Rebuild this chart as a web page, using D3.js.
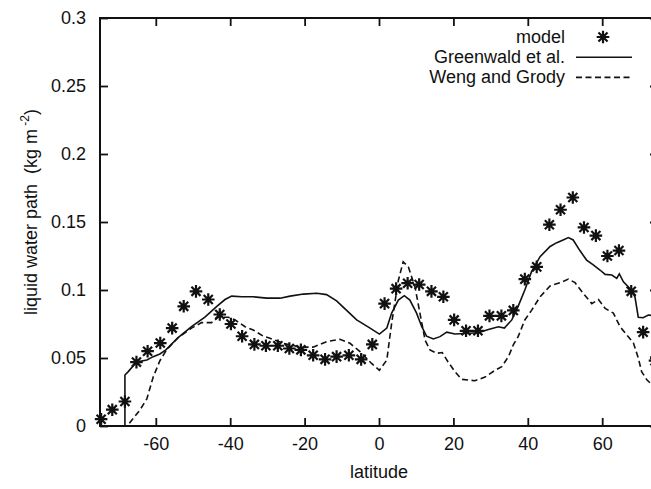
<!DOCTYPE html>
<html>
<head>
<meta charset="utf-8">
<script src="https://cdn.jsdelivr.net/npm/d3@7"></script>
<style>
  body { margin: 0; background: #fff; }
  svg { display: block; font-family: "Liberation Sans", Arial, sans-serif; }
</style>
</head>
<body>
<svg id="chart" width="651" height="489"></svg>
<script>
// model points (latitude, liquid water path)
const modelLat = [-74.7, -71.7, -68.3, -65.2, -62.2, -58.8, -55.6, -52.5, -49.2, -45.9, -42.8, -39.8,
  -36.8, -33.5, -30.4, -27.2, -24.1, -21.0, -17.7, -14.5, -11.4, -8.1, -4.8, -1.8,
  1.5, 4.6, 7.7, 10.8, 14.1, 17.3, 20.2, 23.4, 26.6, 29.7, 32.9, 36.1,
  39.2, 42.4, 45.8, 48.8, 52.1, 55.1, 58.3, 61.4, 64.5, 67.8, 71.0, 74.2];
const modelLwp = [0.005, 0.012, 0.018, 0.047, 0.055, 0.061, 0.072, 0.088, 0.099, 0.093, 0.082, 0.075,
  0.066, 0.060, 0.059, 0.059, 0.057, 0.056, 0.052, 0.049, 0.051, 0.052, 0.049, 0.060,
  0.090, 0.101, 0.105, 0.104, 0.099, 0.095, 0.078, 0.070, 0.070, 0.081, 0.081, 0.085,
  0.108, 0.117, 0.148, 0.159, 0.168, 0.146, 0.140, 0.125, 0.129, 0.099, 0.069, 0.048];

// Greenwald et al. (solid)
const greenLat = [-68.3, -68.3, -67.4, -65.2, -62.4, -60.7, -58.9, -57.3, -54.0, -50.4, -46.8, -43.6,
  -41.4, -39.6, -36.9, -33.8, -30.2, -26.6, -23.9, -20.3, -16.7, -14.1, -11.4, -8.7,
  -6.0, -2.4, 0.1, 2.1, 3.4, 5.2, 6.8, 8.3, 10.1, 11.5, 12.8, 14.6,
  16.4, 18.2, 20.4, 23.1, 26.7, 29.4, 32.1, 33.7, 35.7, 37.4, 39.2, 41.0,
  43.3, 46.0, 47.8, 49.5, 50.9, 52.2, 54.0, 55.8, 57.6, 59.4, 60.8, 62.6,
  63.9, 64.6, 65.7, 67.5, 68.8, 69.7, 71.0, 72.4, 74.2];
const greenLwp = [0, 0.0375, 0.040, 0.047, 0.0485, 0.051, 0.053, 0.056, 0.065, 0.073, 0.080, 0.088,
  0.093, 0.0955, 0.095, 0.095, 0.094, 0.094, 0.0955, 0.097, 0.0976, 0.0966, 0.092, 0.085,
  0.078, 0.072, 0.0676, 0.072, 0.083, 0.0926, 0.0958, 0.0926, 0.083, 0.073, 0.066, 0.064,
  0.0657, 0.069, 0.0676, 0.068, 0.0686, 0.071, 0.073, 0.072, 0.078, 0.088, 0.100, 0.1135,
  0.1245, 0.132, 0.1348, 0.1368, 0.1385, 0.1368, 0.129, 0.122, 0.1184, 0.1147, 0.1115, 0.111,
  0.1086, 0.1118, 0.106, 0.101, 0.095, 0.080, 0.0796, 0.0816, 0.081];

// Weng and Grody (dashed)
const wengLat = [-67.1, -64.2, -62.4, -60.7, -58.9, -57.1, -54.0, -50.4, -47.7, -45.0, -43.2, -40.5,
  -38.7, -36.0, -33.8, -31.1, -29.3, -25.7, -21.2, -17.7, -14.1, -10.5, -7.8, -5.1,
  -2.0, 0.1, 2.1, 3.4, 5.2, 6.5, 7.9, 9.7, 11.0, 12.4, 13.7, 15.5,
  17.0, 18.6, 20.4, 22.2, 25.8, 28.5, 31.2, 33.0, 34.8, 36.1, 37.4, 39.2,
  41.0, 43.3, 46.0, 48.7, 50.9, 52.7, 54.9, 57.2, 59.0, 60.8, 63.0, 64.8,
  66.6, 68.4, 69.7, 70.6, 72.0, 73.1, 74.2];
const wengLwp = [0.002, 0.012, 0.020, 0.036, 0.048, 0.056, 0.065, 0.072, 0.076, 0.076, 0.080, 0.080,
  0.078, 0.073, 0.0706, 0.066, 0.0645, 0.0608, 0.058, 0.058, 0.062, 0.0638, 0.0608, 0.0547,
  0.046, 0.041, 0.0485, 0.0755, 0.107, 0.1208, 0.117, 0.102, 0.083, 0.063, 0.056, 0.0535,
  0.054, 0.047, 0.040, 0.0343, 0.0333, 0.036, 0.041, 0.0436, 0.051, 0.0596, 0.0657, 0.078,
  0.085, 0.095, 0.103, 0.1054, 0.108, 0.1054, 0.0976, 0.090, 0.093, 0.0865, 0.083, 0.073,
  0.067, 0.061, 0.050, 0.040, 0.034, 0.031, 0.029];

const xTicks = [-60, -40, -20, 0, 20, 40, 60];
const yTicks = [0, 0.05, 0.1, 0.15, 0.2, 0.25, 0.3];
const legendNames = ['model', 'Greenwald et al.', 'Weng and Grody'];

const svg = d3.select('#chart');
const plotLeft = 100, plotRight = 658, plotTop = 18, plotBottom = 426;

const x = d3.scaleLinear().domain([-75, 75]).range([plotLeft, plotRight]);
const y = d3.scaleLinear().domain([0, 0.3]).range([plotBottom, plotTop]);

// asterisk: plus + cross
function star(cx, cy, r) {
  const d = r * 0.72;
  return `M${cx - r},${cy}L${cx + r},${cy}M${cx},${cy - r}L${cx},${cy + r}` +
    `M${cx - d},${cy - d}L${cx + d},${cy + d}M${cx - d},${cy + d}L${cx + d},${cy - d}`;
}

// axes (ticks point inward)
const fontSize = '18px';
const styleAxis = g => {
  g.select('.domain').remove();
  g.selectAll('.tick line').attr('stroke', '#111').attr('stroke-width', 1.8);
  g.selectAll('.tick text').attr('fill', '#111').style('font-size', fontSize)
    .style('font-family', '"Liberation Sans", Arial, sans-serif');
};

svg.append('g')
  .attr('transform', `translate(0,${plotBottom})`)
  .call(d3.axisBottom(x).tickValues(xTicks).tickSizeInner(-8).tickSizeOuter(0).tickPadding(11)
    .tickFormat(d => String(d)))
  .call(styleAxis);

svg.append('g')
  .attr('transform', `translate(0,${plotTop})`)
  .call(d3.axisTop(x).tickValues(xTicks).tickSizeInner(-8).tickSizeOuter(0).tickFormat(''))
  .call(styleAxis);

svg.append('g')
  .attr('transform', `translate(${plotLeft},0)`)
  .call(d3.axisLeft(y).tickValues(yTicks).tickSizeInner(-8).tickSizeOuter(0).tickPadding(14)
    .tickFormat(d => String(d)))
  .call(styleAxis);

svg.append('g')
  .attr('transform', `translate(${plotRight},0)`)
  .call(d3.axisRight(y).tickValues(yTicks).tickSizeInner(-8).tickSizeOuter(0).tickFormat(''))
  .call(styleAxis);

// frame
svg.append('rect')
  .attr('x', plotLeft).attr('y', plotTop)
  .attr('width', plotRight - plotLeft).attr('height', plotBottom - plotTop)
  .attr('fill', 'none').attr('stroke', '#111').attr('stroke-width', 2);

// lines
const line = d3.line().x(d => x(d[0])).y(d => y(d[1]));
const greenData = d3.zip(greenLat, greenLwp);
const wengData = d3.zip(wengLat, wengLwp);

svg.append('path')
  .attr('d', line(greenData))
  .attr('fill', 'none').attr('stroke', '#111').attr('stroke-width', 1.6);

svg.append('path')
  .attr('d', line(wengData))
  .attr('fill', 'none').attr('stroke', '#111').attr('stroke-width', 1.6)
  .attr('stroke-dasharray', '6,3.5');

// model stars
svg.append('g')
  .selectAll('path')
  .data(d3.zip(modelLat, modelLwp))
  .join('path')
  .attr('d', d => star(x(d[0]), y(d[1]), 6.3))
  .attr('fill', 'none').attr('stroke', '#111').attr('stroke-width', 2.2);

// legend
const legX = 565, legY = [43, 63.2, 83.4];
svg.append('g')
  .selectAll('text')
  .data(legendNames)
  .join('text')
  .attr('x', legX).attr('y', (d, i) => legY[i])
  .attr('text-anchor', 'end')
  .attr('fill', '#111')
  .style('font-size', fontSize)
  .text(d => d);

svg.append('path')
  .attr('d', star(603, legY[0] - 6, 6.3))
  .attr('fill', 'none').attr('stroke', '#111').attr('stroke-width', 2.2);
svg.append('line')
  .attr('x1', 576).attr('x2', 632).attr('y1', legY[1] - 6).attr('y2', legY[1] - 6)
  .attr('stroke', '#111').attr('stroke-width', 1.6);
svg.append('line')
  .attr('x1', 576).attr('x2', 632).attr('y1', legY[2] - 6).attr('y2', legY[2] - 6)
  .attr('stroke', '#111').attr('stroke-width', 1.6).attr('stroke-dasharray', '6,3.5');

// axis titles
svg.append('text')
  .attr('x', x(0)).attr('y', 478)
  .attr('text-anchor', 'middle')
  .attr('fill', '#111')
  .style('font-size', fontSize)
  .text('latitude');

const yTitle = svg.append('text')
  .attr('transform', 'translate(37,212) rotate(-90)')
  .attr('text-anchor', 'middle')
  .attr('fill', '#111')
  .style('font-size', fontSize)
  .style('white-space', 'pre');
yTitle.append('tspan').text('liquid water path  (kg m');
yTitle.append('tspan').attr('dy', -8).style('font-size', '12px').text(' -2');
yTitle.append('tspan').attr('dy', 8).text(')');
</script>
</body>
</html>
